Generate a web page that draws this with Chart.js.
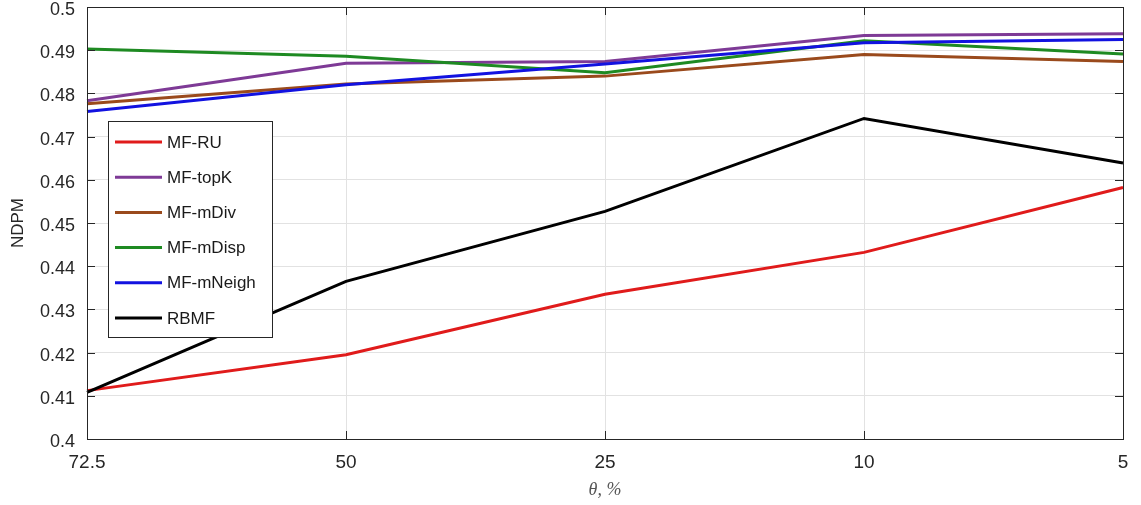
<!DOCTYPE html>
<html>
<head>
<meta charset="utf-8">
<script src="https://cdn.jsdelivr.net/npm/chart.js@4/dist/chart.umd.min.js"></script>
<style>
  html, body { margin: 0; padding: 0; background: #fff; }
  #wrap { width: 1141px; height: 505px; }
</style>
</head>
<body>
<div id="wrap"><canvas id="myChart" width="1141" height="505"></canvas></div>
<script>
// 데이터
const categories = ['72.5', '50', '25', '10', '5'];
const yTicks = [0.4, 0.41, 0.42, 0.43, 0.44, 0.45, 0.46, 0.47, 0.48, 0.49, 0.5];
const seriesNames = ['MF-RU', 'MF-topK', 'MF-mDiv', 'MF-mDisp', 'MF-mNeigh', 'RBMF'];
const mfRU     = [0.4112, 0.4195, 0.4335, 0.4432, 0.4582];
const mfTopK   = [0.4783, 0.4870, 0.4874, 0.4934, 0.4938];
const mfMDiv   = [0.4776, 0.4822, 0.4840, 0.4890, 0.4874];
const mfMDisp  = [0.4903, 0.4886, 0.4848, 0.4922, 0.4891];
const mfMNeigh = [0.4758, 0.4820, 0.4868, 0.4917, 0.4925];
const rbmf     = [0.4108, 0.4365, 0.4527, 0.4742, 0.4639];

const seriesData = [mfRU, mfTopK, mfMDiv, mfMDisp, mfMNeigh, rbmf];
const colors = ['#e01b1b', '#7e3a96', '#9a4a1c', '#1e8a22', '#1212e0', '#000000'];

const FONT = '"Liberation Sans", Arial, sans-serif';

// 박스 + 안쪽 눈금
const boxTicks = {
  id: 'boxTicks',
  afterDatasetsDraw(chart) {
    const {ctx, chartArea: a, scales} = chart;
    ctx.save();
    ctx.strokeStyle = '#262626';
    ctx.lineWidth = 1;
    ctx.beginPath();
    scales.x.ticks.forEach((t, i) => {
      const x = Math.round(scales.x.getPixelForTick(i)) + 0.5;
      ctx.moveTo(x, a.bottom); ctx.lineTo(x, a.bottom - 8);
      ctx.moveTo(x, a.top); ctx.lineTo(x, a.top + 8);
    });
    scales.y.ticks.forEach((t, i) => {
      const y = Math.round(scales.y.getPixelForTick(i)) + 0.5;
      ctx.moveTo(a.left, y); ctx.lineTo(a.left + 8, y);
      ctx.moveTo(a.right, y); ctx.lineTo(a.right - 8, y);
    });
    ctx.stroke();
    ctx.strokeRect(Math.round(a.left) + 0.5, Math.round(a.top) + 0.5,
      Math.round(a.right - a.left), Math.round(a.bottom - a.top));
    ctx.restore();
  }
};

// 범례 (그래프 안쪽 왼편)
const insideLegend = {
  id: 'insideLegend',
  afterDraw(chart) {
    const {ctx, chartArea: a} = chart;
    const bx = a.left + 21, by = a.top + 114, bw = 164, bh = 216;
    ctx.save();
    ctx.fillStyle = '#fff';
    ctx.fillRect(bx, by, bw, bh);
    ctx.strokeStyle = '#262626';
    ctx.lineWidth = 1;
    ctx.strokeRect(bx + 0.5, by + 0.5, bw, bh);
    ctx.font = '17px ' + FONT;
    ctx.textBaseline = 'middle';
    chart.data.datasets.forEach((ds, i) => {
      const y = by + 21 + i * 35.2;
      ctx.strokeStyle = ds.borderColor;
      ctx.lineWidth = 3;
      ctx.beginPath();
      ctx.moveTo(bx + 7, y); ctx.lineTo(bx + 54, y);
      ctx.stroke();
      ctx.fillStyle = '#1a1a1a';
      ctx.fillText(ds.label, bx + 59, y + 1);
    });
    ctx.restore();
  }
};

let ctx = document.getElementById('myChart');

let config = {
  type: 'line',
  data: {
    labels: categories,
    datasets: seriesNames.map((name, i) => ({
      label: name,
      data: seriesData[i],
      borderColor: colors[i],
      backgroundColor: colors[i],
      borderWidth: 3,
      pointRadius: 0,
      tension: 0,
      order: seriesNames.length - i
    }))
  },
  options: {
    responsive: false,
    animation: false,
    layout: {
      padding: {top: 7, right: 18, bottom: 0, left: 0}
    },
    plugins: {
      legend: {display: false},
      tooltip: {enabled: false}
    },
    scales: {
      x: {
        type: 'category',
        offset: false,
        grid: {
          color: '#e2e2e2',
          drawTicks: false,
        },
        border: {display: false},
        ticks: {
          color: '#262626',
          font: {family: FONT, size: 19},
          padding: 12,
          maxRotation: 0,
          autoSkip: false
        },
        title: {
          display: true,
          text: 'θ, %',
          color: '#555',
          font: {family: '"Liberation Serif", "DejaVu Serif", serif', size: 18, style: 'italic'},
          padding: {top: 0, bottom: 4}
        },
        afterFit(scale) { scale.height = 66; }
      },
      y: {
        min: 0.4,
        max: 0.5,
        grid: {
          color: '#e2e2e2',
          drawTicks: false,
        },
        border: {display: false},
        afterBuildTicks(scale) {
          scale.ticks = yTicks.map(v => ({value: v}));
        },
        ticks: {
          color: '#262626',
          font: {family: FONT, size: 18},
          padding: 12,
          labelOffset: 3,
          callback: (v) => String(+v.toFixed(2))
        },
        title: {
          display: true,
          text: 'NDPM',
          color: '#262626',
          font: {family: FONT, size: 17},
          padding: {top: 8, bottom: 0}
        },
        afterFit(scale) {
          scale.width = 87;
          scale.paddingTop = 0;
          scale.paddingBottom = 0;
        }
      }
    }
  },
  plugins: [boxTicks, insideLegend]
};

let myChart = new Chart(ctx, config);
</script>
</body>
</html>
